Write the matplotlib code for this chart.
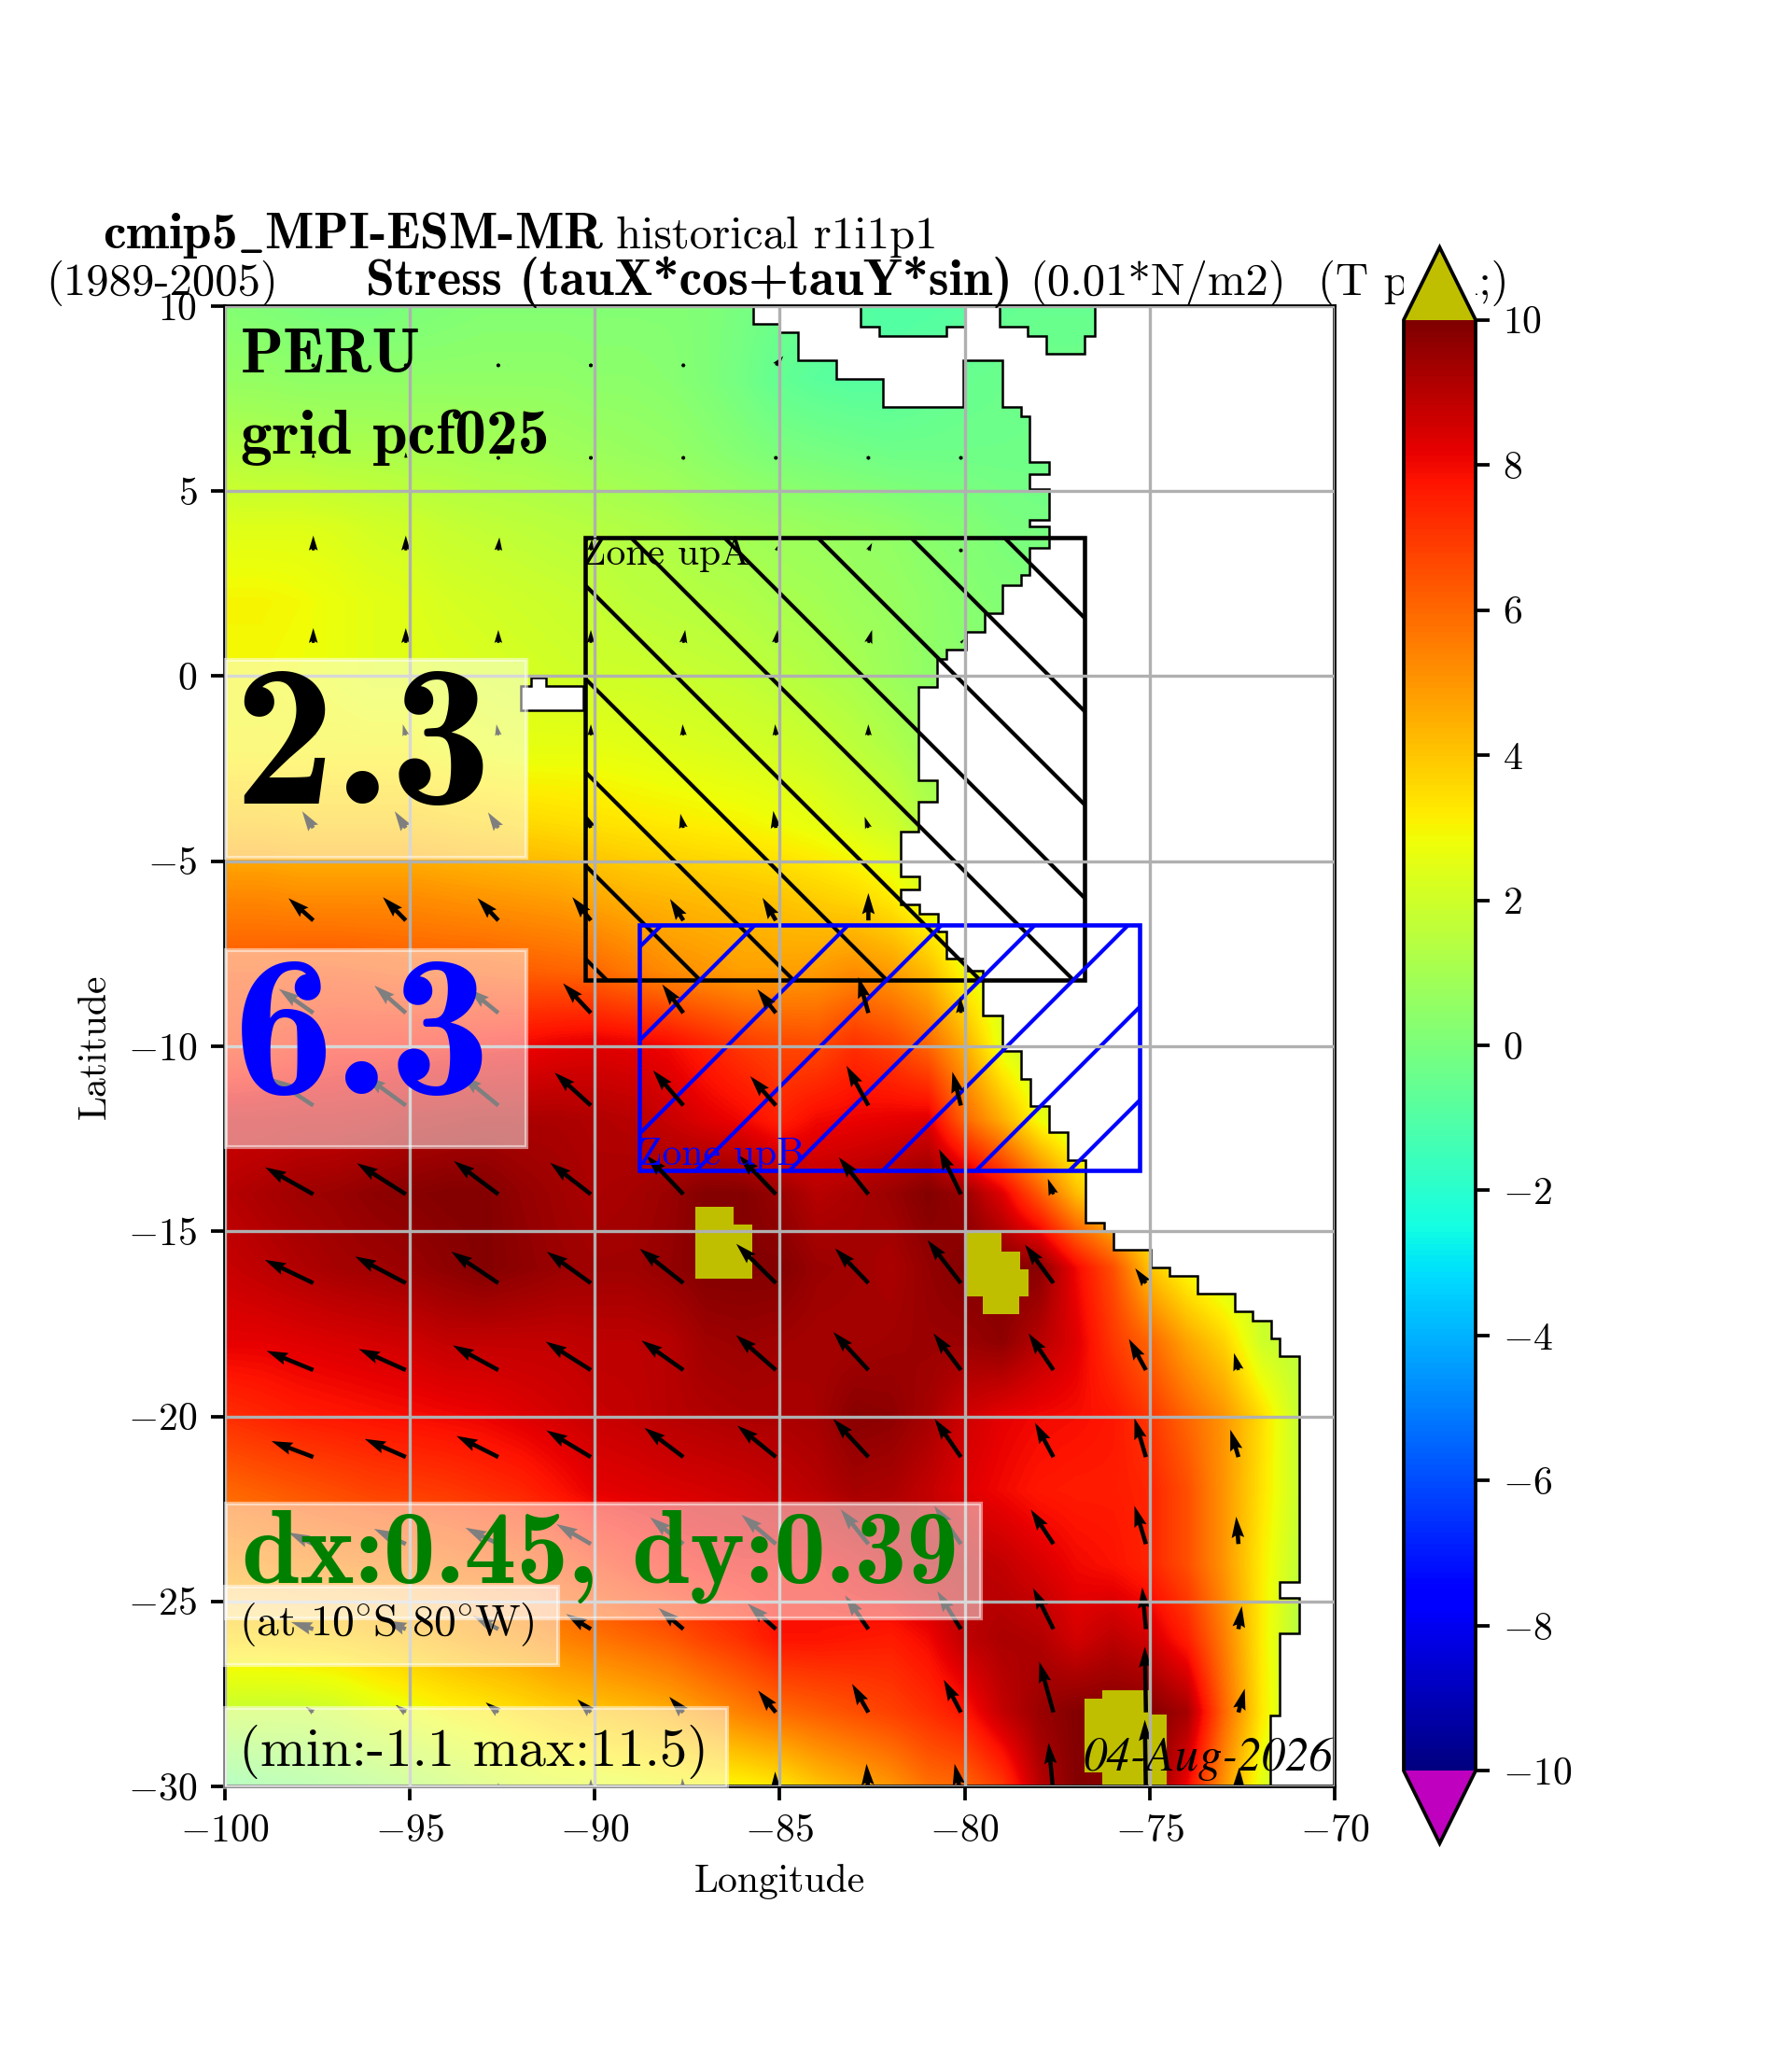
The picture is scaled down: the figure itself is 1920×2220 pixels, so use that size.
import numpy as np
import matplotlib
matplotlib.use("Agg")
import matplotlib.pyplot as plt
from matplotlib.path import Path
from matplotlib.patches import PathPatch, Rectangle, Polygon

plt.rcParams['font.family'] = 'cmr10'
plt.rcParams['mathtext.fontset'] = 'cm'
plt.rcParams['axes.formatter.use_mathtext'] = True
plt.rcParams['axes.unicode_minus'] = True
plt.rcParams['axes.linewidth'] = 0.45
plt.rcParams['xtick.major.size'] = 1.75
plt.rcParams['ytick.major.size'] = 1.75
plt.rcParams['xtick.major.width'] = 0.45
plt.rcParams['ytick.major.width'] = 0.45
plt.rcParams['xtick.major.pad'] = 1.75
plt.rcParams['ytick.major.pad'] = 1.75
plt.rcParams['xtick.labelsize'] = 5
plt.rcParams['ytick.labelsize'] = 5
plt.rcParams['hatch.linewidth'] = 0.5

# stress field, 1 deg in lon, 2 deg in lat
field_lons = np.arange(-100, -69, 1)
field_lats = np.arange(10, -31, -2)
field = [
 [.2,.1,0,-.1,-.1,0,.1,.2,.2,.2,.2,.2,.2,.1,-.1,-.3,-.6,-.9,-1,-1,-.9,-.6,-.5,-.5,-.5,-.5,-.5,-.5,-.5,-.5,-.5],
 [.6,.6,.5,.5,.5,.5,.5,.5,.5,.5,.4,.4,.3,.1,-.2,-.6,-.8,-.9,-.9,-.7,-.5,-.4,-.3,-.3,-.3,-.3,-.3,-.3,-.3,-.3,-.3],
 [1.4,1.3,1.3,1.2,1.2,1.1,1.1,1,1,.9,.8,.7,.6,.4,.2,0,-.1,-.2,-.3,-.3,-.3,-.3,-.3,-.3,-.3,-.3,-.3,-.3,-.3,-.3,-.3],
 [2.4,2.4,2.4,2.3,2.1,2,1.8,1.7,1.6,1.5,1.4,1.3,1.2,1,.9,.8,.7,.6,.5,.3,.2,0,-.1,-.1,-.1,-.1,-.1,-.1,-.1,-.1,-.1],
 [3,3,2.9,2.7,2.5,2.4,2.2,2.1,2,1.9,1.8,1.6,1.5,1.4,1.3,1.1,1,.8,.7,.5,.3,.2,.1,.1,.1,.1,.1,.1,.1,.1,.1],
 [2.9,2.9,2.8,2.7,2.5,2.5,2.4,2.3,2.2,2.1,2,2,1.9,1.8,1.7,1.5,1.3,1.1,.8,.5,.4,.3,.3,.3,.3,.3,.3,.3,.3,.3,.3],
 [3,3,3,3,3,3,2.8,2.7,2.6,2.6,2.6,2.5,2.4,2.3,2.2,2.1,1.9,1.6,1.3,.9,.7,.7,.7,.7,.7,.7,.7,.7,.7,.7,.7],
 [4,4,3.9,3.9,3.9,3.9,3.8,3.7,3.6,3.5,3.4,3.3,3.2,3.1,3,2.8,2.6,2.3,2,1.3,1,1,1,1,1,1,1,1,1,1,1],
 [5.3,5.3,5.2,5.2,5.2,5.2,5.1,5,4.9,4.8,4.6,4.4,4.3,4.2,4.1,4,3.8,3.6,3.2,2.4,2,1.8,1.8,1.8,1.8,1.8,1.8,1.8,1.8,1.8,1.8],
 [6.4,6.4,6.5,6.5,6.4,6.3,6.3,6.3,6.2,6.1,6,5.6,5.2,5,4.8,4.8,4.9,5.2,4.9,4.2,2.8,2,1.8,1.8,1.8,1.8,1.8,1.8,1.8,1.8,1.8],
 [7,7.2,7.4,7.6,7.6,7.7,7.8,7.9,8,8.2,8.3,8.2,8,7.5,7,6.7,6.6,7.2,6.8,6,4.5,2.5,1.5,1.3,1.3,1.3,1.3,1.3,1.3,1.3,1.3],
 [8.6,8.6,8.7,8.7,8.8,9,9.1,9.2,9.2,9.2,9.1,9,8.7,8.3,8,7.5,8,8.1,8.2,8.3,6,4.5,2.8,1.8,1.5,1.5,1.5,1.5,1.5,1.5,1.5],
 [9,9.2,9.4,9.5,9.7,9.8,9.9,9.9,9.6,9.4,9.2,9.3,9.5,9.9,9.9,9.5,9,9.2,9.5,9.9,9.5,8.3,6.3,4.2,3,2.5,2,2,2,2,2],
 [8.7,8.9,9.1,9.3,9.4,9.5,9.7,9.9,9.7,9.5,9.4,9.4,9.6,9.9,9.9,9.9,9.5,9.4,9.2,9.6,9.9,9.9,9.8,8,6.5,4,2.8,2,1.8,1.8,1.8],
 [8.2,8.2,8.3,8.4,8.5,8.6,8.8,8.8,8.8,8.8,8.9,8.9,9,9.4,9.5,9.4,9.3,9.3,9.4,9.5,9.5,9.7,9,8.3,7,6,4.7,3.7,2,1.6,1.5],
 [7.2,7.4,7.6,7.7,7.8,7.9,8,8.1,8.3,8.5,8.7,8.8,9,9.1,9.2,9.2,9.3,9.8,9.7,9.3,8.6,8.2,8,7.9,7.7,7,6,5,3.5,1.8,1.5],
 [6,6.2,6.4,6.6,6.8,6.9,7,7.2,7.4,7.8,8.2,8.3,8.4,8.5,8.6,8.8,9,9.3,9.2,8.8,8.3,8,7.7,7.6,7.6,7.4,6.5,5,3.4,1.9,1.6],
 [5,5.1,5.3,5.4,5.5,5.6,5.8,6,6.2,6.6,7,7.4,7.7,7.9,8,8,8,8.3,8.6,9,9,8.8,8.4,8,7.8,7.4,6.5,5,3.2,1.7,1.5],
 [3.6,3.6,3.7,3.8,4,4.2,4.5,4.8,5,5.4,5.7,6,6.3,6.8,7.2,7.8,7.8,7.7,7.6,8,8.9,9.2,9.1,8.5,8.9,8.5,7.5,5.5,3.2,1.4,1.3],
 [1.8,1.8,1.8,2,2.4,2.7,3,3.2,3.5,3.8,4,4.2,4.5,5,5.5,5.9,6.2,6.5,6.8,7.2,7.7,8.8,9.5,9.9,9.9,9.9,9.3,6,3.3,1.5,1.3],
 [-.3,0,.2,.5,.8,1.1,1.5,1.9,2.2,2.4,2.5,2.6,2.8,2.9,3,3.3,4,4.5,5,5.8,6,7,9,9.9,9.9,9.9,8,5,2.5,1,1],
]

# arrows: tails and lengths (deg), nan over land
arrow_lons = [-100.1, -97.6, -95.1, -92.6, -90.1, -87.6, -85.1, -82.6, -80.1, -77.6, -75.1, -72.6]
arrow_lats = [8.4, 5.9, 3.4, 0.9, -1.6, -4.1, -6.6, -9.1, -11.6, -14, -16.4, -18.75, -21.1, -23.45, -25.75, -28, -30.2]
nan = np.nan
arrow_u = [
 [0,0,0,0,0,.03,.2,nan,nan,nan,nan,nan],
 [0,0,0,.02,0,0,0,0,0,nan,nan,nan],
 [0,0,0,.03,.03,0,.05,.1,0,nan,nan,nan],
 [0,0,0,0,0,.05,.05,.1,.08,nan,nan,nan],
 [-.02,-.02,-.08,-.05,0,-.02,-.02,0,nan,nan,nan,nan],
 [-.3,-.3,-.3,-.28,-.18,-.08,-.07,-.1,nan,nan,nan,nan],
 [-.67,-.67,-.62,-.56,-.5,-.36,-.36,0,nan,nan,nan,nan],
 [-.93,-.93,-.85,-.8,-.75,-.57,-.5,-.27,-.02,nan,nan,nan],
 [-1.13,-1.13,-1.1,-1,-.98,-.82,-.69,-.59,-.23,nan,nan,nan],
 [-1.3,-1.3,-1.32,-1.2,-1.1,-1,-1,-.8,-.59,-.15,nan,nan],
 [-1.31,-1.31,-1.37,-1.27,-1.19,-1.18,-1.07,-.9,-.9,-.77,-.29,nan],
 [-1.26,-1.26,-1.27,-1.23,-1.22,-1.13,-1.08,-.95,-.74,-.67,-.46,-.12],
 [-1.13,-1.13,-1.11,-1.13,-1.2,-1.05,-1.04,-.95,-.71,-.5,-.31,-.22],
 [-.67,-.67,-.86,-.89,-.93,-.9,-.93,-.75,-.72,-.61,-.31,-.06],
 [-.6,-.6,-.55,-.68,-.67,-.67,-.76,-.63,-.64,-.55,-.1,.09],
 [-.2,-.2,-.27,-.34,-.36,-.38,-.48,-.44,-.46,-.38,-.03,.17],
 [0,0,0,0,0,-.03,-.02,-.05,-.17,-.13,-.03,.02],
]
arrow_v = [
 [0,0,0,.02,.02,.05,.25,nan,nan,nan,nan,nan],
 [0,.15,.15,.1,.02,.02,.02,.02,.02,nan,nan,nan],
 [.3,.4,.4,.35,.3,.1,.12,.2,-.1,nan,nan,nan],
 [.3,.4,.4,.35,.35,.35,.35,.35,.1,nan,nan,nan],
 [.25,.25,.3,.3,.3,.3,.3,.3,nan,nan,nan,nan],
 [.45,.45,.45,.42,.42,.38,.46,.3,nan,nan,nan,nan],
 [.6,.6,.63,.6,.63,.58,.61,.74,nan,nan,nan,nan],
 [.65,.65,.74,.65,.8,.77,.64,.97,.44,nan,nan,nan],
 [.74,.74,.8,.82,.89,.95,.79,1.07,.91,nan,nan,nan],
 [.73,.73,.84,.9,.85,1.05,1.05,1,1.22,.42,nan,nan],
 [.63,.63,.72,.85,.85,.93,1.06,.94,1.16,1.04,.4,nan],
 [.52,.52,.57,.67,.77,.8,.95,1.03,.99,.99,.84,.46],
 [.43,.43,.49,.57,.72,.79,.85,1.03,1.03,.93,1.05,.74],
 [.31,.31,.41,.44,.54,.72,.79,.94,1.03,.93,1.03,.74],
 [.19,.19,.23,.36,.41,.57,.69,.91,1.03,1.11,1.13,.62],
 [.15,.15,.2,.27,.35,.42,.59,.77,.88,1.37,1.78,.64],
 [.2,.2,.2,.3,.4,.42,.6,.81,.81,1.38,2,.71],
]

# sea outline (step coast), north to south
coast_lon = [-100, -100, -85.72, -85.72, -85, -85, -84.5, -84.5, -83.47, -83.47, -82.2, -82.2, -80.04, -80.04, -78.99, -78.99,
             -78.48, -78.48, -78.24, -78.24, -77.73, -77.73, -78.24, -78.24, -77.73, -77.73, -78.24, -78.24, -77.73, -77.73,
             -78.24, -78.24, -78.48, -78.48, -78.99, -78.99, -79.47, -79.47, -79.97, -79.97, -80.48, -80.48, -80.74, -80.74,
             -81.24, -81.24, -80.74, -80.74, -81.24, -81.24, -81.74, -81.74, -81.22, -81.22, -81.74, -81.74, -81.22, -81.22,
             -80.73, -80.73, -80.48, -80.48, -80, -80, -79.5, -79.5, -78.98, -78.98, -78.47, -78.47, -78.22, -78.22, -77.72, -77.72,
             -77.22, -77.22, -76.73, -76.73, -76.22, -76.22, -75.97, -75.97, -74.97, -74.97, -74.47, -74.47, -73.71, -73.71,
             -72.7, -72.7, -72.21, -72.21, -71.72, -71.72, -71.48, -71.48, -70.96, -70.96, -71.48, -71.48, -70.96, -70.96,
             -71.48, -71.48, -71.73, -71.73]
coast_lat = [-30, 10, 10, 9.51, 9.51, 9.29, 9.29, 8.53, 8.53, 8.04, 8.04, 7.28, 7.28, 8.54, 8.54, 7.28,
             7.28, 7.03, 7.03, 5.8, 5.8, 5.47, 5.47, 5.06, 5.06, 4.22, 4.22, 4.05, 4.05, 3.47,
             3.47, 2.73, 2.73, 2.46, 2.46, 1.71, 1.71, 1.21, 1.21, .73, .73, .46, .46, -.3,
             -.3, -2.8, -2.8, -3.4, -3.4, -4.2, -4.2, -5.42, -5.42, -5.76, -5.76, -6.16, -6.16, -6.43,
             -6.43, -6.91, -6.91, -7.64, -7.64, -7.95, -7.95, -9.16, -9.16, -10.12, -10.12, -10.88, -10.88, -11.61, -11.61, -12.33,
             -12.33, -13.08, -13.08, -14.76, -14.76, -15, -15, -15.5, -15.5, -15.97, -15.97, -16.2, -16.2, -16.69,
             -16.69, -17.17, -17.17, -17.42, -17.42, -17.89, -17.89, -18.37, -18.37, -24.48, -24.48, -24.9, -24.9, -25.86,
             -25.86, -28.09, -28.09, -30]
gulf1_lon = [-82.8, -82.8, -82.31, -82.31, -80.48, -80.48, -80, -80]
gulf1_lat = [10, 9.44, 9.44, 9.2, 9.2, 9.44, 9.44, 10]
gulf2_lon = [-79.06, -79.06, -78.3, -78.3, -77.8, -77.8, -76.75, -76.75, -76.47, -76.47]
gulf2_lat = [10, 9.44, 9.44, 9.2, 9.2, 8.72, 8.72, 9.2, 9.2, 10]
island_lon = [-90.3, -90.3, -91.3, -91.3, -91.72, -91.72, -91.98, -91.98]
island_lat = [-.93, -.27, -.27, -.04, -.04, -.27, -.27, -.93]

# cells above the colour range
over1_lon = [-87.27, -87.27, -86.25, -86.25, -85.74, -85.74]
over1_lat = [-16.27, -14.33, -14.33, -14.81, -14.81, -16.27]
over2_lon = [-79.96, -79.01, -79.01, -78.5, -78.5, -78.26, -78.26, -78.52, -78.52, -79.52, -79.52, -79.96]
over2_lat = [-15, -15, -15.55, -15.55, -16.03, -16.03, -16.75, -16.75, -17.24, -17.24, -16.75, -16.75]
over3_lon = [-76.77, -76.77, -76.27, -76.27, -74.97, -74.97, -74.53, -74.53, -76.27, -76.27, -76.77]
over3_lat = [-29.62, -27.63, -27.63, -27.4, -27.4, -28.07, -28.07, -30, -30, -29.62, -29.62]

zone_a = [-90.26, -76.75, -8.21, 3.74]
zone_b = [-88.79, -75.26, -13.35, -6.72]
cbar_ticks = np.arange(-10, 11, 2)


def fx(px):
    return px / 1920


def fy(py):
    return 1 - py / 2220


fig = plt.figure(figsize=(3.2, 3.7), dpi=600)
ax = fig.add_axes([fx(240.5), fy(1914), fx(1430 - 240.5), (1914 - 328) / 2220])

cmap = plt.get_cmap('jet').copy()
cmap.set_over('y')
cmap.set_under('m')

# bilinear on the data so the colours stay on the colormap
im = ax.imshow(np.array(field), extent=[-100.5, -69.5, -31, 11], cmap=cmap, vmin=-10, vmax=10, aspect='auto',
               interpolation='bilinear', interpolation_stage='data', zorder=0)
ax.set_xlim(-100, -70)
ax.set_ylim(-30, 10)

rings = [(coast_lon, coast_lat), (gulf1_lon, gulf1_lat), (gulf2_lon, gulf2_lat), (island_lon, island_lat)]
verts, codes = [], []
for rlon, rlat in rings:
    pts = list(zip(rlon, rlat))
    verts += pts + [pts[0]]
    codes += [Path.MOVETO] + [Path.LINETO] * (len(pts) - 1) + [Path.CLOSEPOLY]
sea = PathPatch(Path(verts, codes), facecolor='none', edgecolor='k', lw=0.3, zorder=1.5)
ax.add_patch(sea)
im.set_clip_path(sea)

for olon, olat in [(over1_lon, over1_lat), (over2_lon, over2_lat), (over3_lon, over3_lat)]:
    ax.add_patch(Polygon(list(zip(olon, olat)), closed=True, facecolor='y', edgecolor='none', zorder=0.8))

ax.add_patch(Rectangle((zone_a[0], zone_a[2]), zone_a[1] - zone_a[0], zone_a[3] - zone_a[2], fill=False,
                       edgecolor='k', hatch='\\\\', lw=0.55, zorder=2))
ax.add_patch(Rectangle((zone_b[0], zone_b[2]), zone_b[1] - zone_b[0], zone_b[3] - zone_b[2], fill=False,
                       edgecolor='b', hatch='//', lw=0.55, zorder=2))

qx, qy = np.meshgrid(arrow_lons, arrow_lats)
ax.quiver(qx, qy, np.array(arrow_u), np.array(arrow_v), angles='xy', scale_units='xy', scale=1,
          width=0.0038, color='k', zorder=2.2)

ax.grid(True, color='#b0b0b0', lw=0.4)
ax.set_axisbelow(False)
ax.set_xticks(np.arange(-100, -69, 5))
ax.set_yticks(np.arange(-30, 11, 5))
ax.set_xlabel('Longitude', fontsize=5, labelpad=2)
ax.set_ylabel('Latitude', fontsize=5, labelpad=2)

# white boxes behind the big numbers
boxes = [(242.4, 563.7, 707, 919), (242.4, 563.7, 1018, 1229), (242.4, 1050.6, 1611, 1733.5),
         (241, 597.5, 1700, 1784), (241, 779, 1830, 1915)]
for x0, x1, y0, y1 in boxes:
    ax.add_patch(Rectangle((fx(x0), fy(y1)), fx(x1 - x0), (y1 - y0) / 2220, transform=fig.transFigure,
                           facecolor='w', edgecolor='w', alpha=0.5, lw=0.5, zorder=5, clip_on=False))


def put(px, py, s, **kw):
    return ax.text(fx(px), fy(py), s, transform=fig.transFigure, va='baseline', zorder=6, clip_on=False, **kw)


put(110, 266, r'cmip5$\_$MPI-ESM-MR', family='cmb10', fontsize=6.63)
put(660, 266, 'historical r1i1p1', fontsize=5.87)
put(49, 316, '(1989-2005)', fontsize=5.87)
put(392, 316, 'Stress (tauX*cos+tauY*sin)', family='cmb10', fontsize=6.7)
put(1103, 316, '(0.01*N/m2)', fontsize=5.87)
put(1412, 316, '(T pacfi;)', fontsize=5.87)

put(258, 399, 'PERU', family='cmb10', fontsize=8.1)
put(258, 486, 'grid pcf025', family='cmb10', fontsize=8.1)
put(250, 861, '2.3', family='cmb10', fontsize=26, color='k')
put(250, 1172, '6.3', family='cmb10', fontsize=26, color='b')
put(259, 1695, 'dx:0.45, dy:0.39', family='cmb10', fontsize=13.4, color='g')
put(256, 1752, r'(at 10$\!^\circ\!$S 80$\!^\circ\!$W)', fontsize=5.7)
put(256, 1892, '(min:-1.1 max:11.5)', fontsize=7.05)
put(1160, 1897, '04-Aug-2026', family='STIXGeneral', style='italic', fontsize=6.1)
put(624, 604.6, 'Zone upA', fontsize=5)
put(684, 1248, 'Zone upB', fontsize=5, color='b')

# colorbar axes background hides the end of the title, triangles included
ax.add_patch(Rectangle((fx(1504), fy(1975)), fx(77), (1975 - 265) / 2220, transform=fig.transFigure,
                       facecolor='w', edgecolor='none', zorder=7, clip_on=False))
cax = fig.add_axes([fx(1504), fy(1975), fx(77), (1975 - 265) / 2220], zorder=10)
cb = fig.colorbar(im, cax=cax, extend='both', ticks=cbar_ticks)
cb.outline.set_linewidth(0.45)
cb.ax.tick_params(width=0.45, length=1.75)

fig.savefig('out.png', dpi=600)
